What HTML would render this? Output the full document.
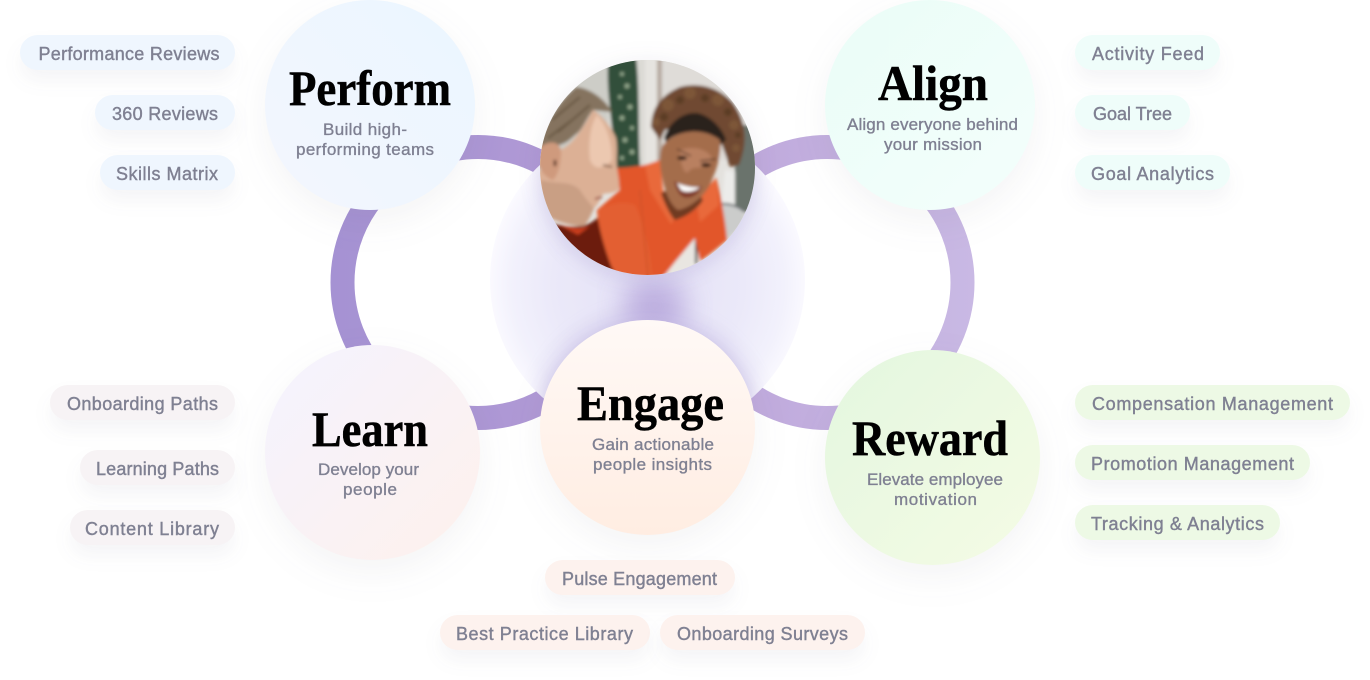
<!DOCTYPE html>
<html lang="en">
<head>
<meta charset="utf-8">
<title>Platform diagram</title>
<style>
html,body{margin:0;padding:0;background:#fff;width:1370px;height:680px;overflow:hidden}
svg{display:block}
.p{font:500 18px "Liberation Sans",sans-serif;fill:#7f8092;stroke:#7f8092;stroke-width:.4px}
.s{font:500 17px "Liberation Sans",sans-serif;fill:#7f8092;stroke:#7f8092;stroke-width:.35px}
.t{font:700 50px "Liberation Serif",serif;fill:#000;stroke:#000;stroke-width:.5px}
.pill{filter:drop-shadow(0 11px 9px rgba(60,60,90,.05))}
.c{filter:drop-shadow(0 12px 18px rgba(60,60,90,.06))}
</style>
</head>
<body>
<svg width="1370" height="680" viewBox="0 0 1370 680" xmlns="http://www.w3.org/2000/svg">
<defs>
<linearGradient id="rl" gradientUnits="userSpaceOnUse" x1="330" y1="280" x2="620" y2="280"><stop offset="0" stop-color="#a592d3"/><stop offset="1" stop-color="#b49cd6"/></linearGradient>
<linearGradient id="rr" gradientUnits="userSpaceOnUse" x1="690" y1="280" x2="975" y2="280"><stop offset="0" stop-color="#bda6da"/><stop offset="1" stop-color="#c9b9e4"/></linearGradient>
<radialGradient id="mid" gradientUnits="userSpaceOnUse" cx="648" cy="285" r="160"><stop offset="0" stop-color="#e4e1f6"/><stop offset=".6" stop-color="#ebe9f9"/><stop offset=".85" stop-color="#f2f1fc"/><stop offset="1" stop-color="#fbfaff"/></radialGradient>
<linearGradient id="g1" x1="1" y1="0" x2="0" y2="1"><stop offset="0" stop-color="#ebf6ff"/><stop offset="1" stop-color="#f3f6fe"/></linearGradient>
<linearGradient id="g2" x1="0" y1="0" x2="1" y2="1"><stop offset="0" stop-color="#eafdf7"/><stop offset="1" stop-color="#f4fefc"/></linearGradient>
<linearGradient id="g3" x1="0" y1="0" x2="1" y2="1"><stop offset=".1" stop-color="#f5f3fd"/><stop offset=".9" stop-color="#fdf1ee"/></linearGradient>
<linearGradient id="g4" x1="0" y1="0" x2="0" y2="1"><stop offset="0" stop-color="#fff9f6"/><stop offset="1" stop-color="#ffede2"/></linearGradient>
<linearGradient id="g5" x1="0" y1="0" x2="1" y2="1"><stop offset=".1" stop-color="#e5f7e0"/><stop offset=".9" stop-color="#f3fbe4"/></linearGradient>
<clipPath id="ph"><circle cx="647.5" cy="167.5" r="107.5"/></clipPath>
<clipPath id="dc"><circle cx="647.5" cy="280" r="157.5"/></clipPath>
<filter id="b1" x="-10%" y="-10%" width="120%" height="120%"><feGaussianBlur stdDeviation="1.5"/></filter>
<filter id="b9" x="-30%" y="-30%" width="160%" height="160%"><feGaussianBlur stdDeviation="10"/></filter>
<filter id="b14" x="-40%" y="-40%" width="180%" height="180%"><feGaussianBlur stdDeviation="14"/></filter>
</defs>

<!-- ring arcs -->
<circle cx="478" cy="282.5" r="135.5" fill="none" stroke="url(#rl)" stroke-width="24"/>
<circle cx="827" cy="282.5" r="135.5" fill="none" stroke="url(#rr)" stroke-width="24"/>

<!-- central disc -->
<circle cx="647.5" cy="280" r="157.5" fill="url(#mid)"/>
<g clip-path="url(#dc)">
<circle cx="647.5" cy="425" r="110" fill="#bdb0e2" opacity=".55" filter="url(#b9)"/>
<ellipse cx="655" cy="305" rx="32" ry="26" fill="#b3a2da" opacity=".8" filter="url(#b14)"/>
<circle cx="647.5" cy="172" r="108" fill="#c9c1ea" opacity=".4" filter="url(#b9)"/>
</g>

<!-- photo -->
<g style="filter:drop-shadow(0 2px 12px rgba(60,50,100,.08))">
<circle cx="647.5" cy="167.5" r="107.5" fill="#e4e1dd"/>
</g>
<g clip-path="url(#ph)">
<rect x="540" y="60" width="215" height="215" fill="#e4e2de"/>
<g filter="url(#b1)">
<!-- background -->
<rect x="530" y="50" width="80" height="120" fill="#cdcdc7"/>
<rect x="608" y="50" width="40" height="120" fill="#dcdad5"/>
<rect x="645" y="50" width="12" height="120" fill="#e6e4e0"/>
<rect x="657" y="50" width="5.5" height="115" fill="#b7aba2"/>
<rect x="662" y="50" width="100" height="110" fill="#dfdcd8"/>
<path d="M608 60C614 56 628 54 636 56C640 90 638 130 640 166L616 170C614 130 606 100 608 60Z" fill="#33503a"/>
<g fill="#93a78c">
<circle cx="622" cy="74" r="2"/><circle cx="627" cy="86" r="2.5"/><circle cx="620" cy="97" r="2"/><circle cx="630" cy="107" r="2.5"/><circle cx="622" cy="118" r="2.5"/><circle cx="632" cy="128" r="2"/><circle cx="625" cy="140" r="2.5"/><circle cx="632" cy="152" r="2.5"/><circle cx="622" cy="158" r="2"/>
</g>
<!-- right of woman -->
<path d="M725 170L735 172L735 205L722 205Z" fill="#ececea"/>
<path d="M735 125L762 125L762 215L735 210Z" fill="#6a736c"/>
<path d="M720 203Q735 203 745 212L742 226L726 240Z" fill="#cbcccb"/>
<path d="M720 204Q735 203 745 212" stroke="#6b6f72" stroke-width="2" fill="none"/>
<path d="M650 285L695 238L705 285Z" fill="#e9e6e1"/>
<rect x="695" y="238" width="2.5" height="26" fill="#4a4a48"/>
<!-- man's dark shirt -->
<path d="M548 222C570 230 590 228 600 215L618 285L565 285Z" fill="#6c1a10"/>
<path d="M555 222C565 228 580 230 590 226L578 235Z" fill="#c93c1e"/>
<!-- orange shirt -->
<path d="M615 168C630 168 650 165 660 160L662 190C668 210 672 216 675 218C690 216 702 205 711 190L716 177C722 200 726 225 727 240C715 250 705 258 700 261L695 238L675 262L657 285L625 285L612 268C605 250 598 225 597 210L620 190Z" fill="#e2572b"/>
<path d="M597 210C610 205 620 200 635 205C645 225 650 250 653 285L625 285L612 268C605 250 598 225 597 210Z" fill="#e35f31"/>
<path d="M640 190L648 276" stroke="#cc4f26" stroke-width="1.2" fill="none"/>
<path d="M645 165L660 160L663 190L675 218L671 224L650 190Z" fill="#e9693a"/>
<path d="M696 200L716 178L719 205L700 222Z" fill="#e9693a"/>
<!-- neck -->
<path d="M661 193C665 205 672 218 675 220C688 216 698 208 703 200L690 180Z" fill="#6f3a24"/>
<!-- hair -->
<path d="M651 127C652 108 660 96 680 87C700 82 720 88 733 103C745 120 749 140 739 165L730 167L722 145L710 128L680 125L665 130L660 140Z" fill="#6f4a30"/>
<g fill="#7d5639"><circle cx="668" cy="105" r="6"/><circle cx="690" cy="93" r="6"/><circle cx="718" cy="100" r="6"/><circle cx="734" cy="125" r="5"/><circle cx="736" cy="148" r="4"/><circle cx="656" cy="122" r="4"/></g>
<g fill="#5c3c27"><circle cx="680" cy="100" r="4"/><circle cx="705" cy="98" r="4"/><circle cx="728" cy="112" r="4"/><circle cx="738" cy="135" r="3"/><circle cx="664" cy="117" r="4"/></g>
<path d="M664 138C670 120 685 112 697 113C712 116 723 130 726 140L720 145C705 130 680 128 666 142Z" fill="#2a211e"/>
<!-- face -->
<path d="M663 145C678 128 705 128 720 140C722 150 717 170 713 177C708 195 690 208 678 210C670 205 664 190 661 172C659 160 660 150 663 145Z" fill="#a46d4c"/>
<path d="M680 150C695 145 708 150 712 158C708 172 695 165 690 170C685 178 680 165 680 150Z" fill="#b98061"/>
<path d="M677 149L691 156M700 161L716 159" stroke="#45291c" stroke-width="1.2" fill="none"/>
<ellipse cx="682" cy="158" rx="5" ry="2" fill="#2a1710"/>
<ellipse cx="706" cy="165" rx="5" ry="2" fill="#2a1710"/>
<path d="M674 181C682 186 692 187 702 186C698 197 688 199 683 197C678 194 676 188 674 181Z" fill="#7f3b2a"/>
<path d="M677 183C684 186 692 188 700 187C695 192 685 193 681 190Z" fill="#fff"/>
<!-- man's hair -->
<path d="M535 150C545 122 560 100 576 87C590 88 606 100 612 112L593 110C585 120 583 130 575 135C565 145 560 145 545 148Z" fill="#85735f"/>
<path d="M552 120L580 97M558 132L590 105M548 138L572 120" stroke="#66553f" stroke-width="2" fill="none"/>
<!-- man's face -->
<path d="M593 110C602 115 612 128 616 138C618 150 616 158 617 168C618 175 620 183 619 190C612 194 606 193 603 194C600 200 598 205 594 208C590 218 586 225 583 226C570 226 560 222 550 218C538 205 535 190 536 175L560 150C572 145 582 130 593 110Z" fill="#dcb095"/>
<path d="M597 115C606 125 612 140 612 160C603 170 594 170 590 160C588 145 590 125 597 115Z" fill="#ecc8b0"/>
<path d="M550 218C540 205 540 192 541 180C558 185 570 180 580 190C586 200 594 208 594 208C590 218 586 225 583 226C570 226 560 222 550 218Z" fill="#c99f84"/>
<path d="M603 165L612 167" stroke="#6b4a38" stroke-width="1.5" fill="none"/>
<path d="M595 199L602 197" stroke="#9f5a4e" stroke-width="2" fill="none"/>
<!-- ear -->
<path d="M536 150C548 140 558 140 561 150C561 160 560 172 553 180C546 178 535 168 536 150Z" fill="#cf9a7d"/>
<path d="M555 160L555 166" stroke="#4a2a1c" stroke-width="2.5" fill="none"/>
</g>
</g>

<!-- main circles -->
<circle class="c" cx="370" cy="105" r="105" fill="url(#g1)"/>
<circle class="c" cx="930" cy="105" r="105" fill="url(#g2)"/>
<circle class="c" cx="372.5" cy="452.5" r="107.5" fill="url(#g3)"/>
<circle class="c" cx="647.5" cy="427.5" r="107.5" fill="url(#g4)"/>
<circle class="c" cx="932.5" cy="457.5" r="107.5" fill="url(#g5)"/>

<text class="t" x="289" y="105" textLength="162" lengthAdjust="spacingAndGlyphs">Perform</text>
<text class="t" x="878" y="100" textLength="110" lengthAdjust="spacingAndGlyphs">Align</text>
<text class="t" x="312" y="446" textLength="116" lengthAdjust="spacingAndGlyphs">Learn</text>
<text class="t" x="577" y="420" textLength="147" lengthAdjust="spacingAndGlyphs">Engage</text>
<text class="t" x="852" y="455" textLength="156" lengthAdjust="spacingAndGlyphs">Reward</text>

<text class="s" x="323" y="135" textLength="84">Build high-</text>
<text class="s" x="296" y="155" textLength="138">performing teams</text>
<text class="s" x="847" y="130" textLength="171">Align everyone behind</text>
<text class="s" x="884" y="150" textLength="98">your mission</text>
<text class="s" x="318" y="475" textLength="101">Develop your</text>
<text class="s" x="343" y="495" textLength="54">people</text>
<text class="s" x="592" y="450" textLength="122">Gain actionable</text>
<text class="s" x="593" y="470" textLength="119">people insights</text>
<text class="s" x="867" y="485" textLength="136">Elevate employee</text>
<text class="s" x="894" y="505" textLength="83">motivation</text>

<!-- pills: Perform -->
<g fill="#eff6fe">
<rect class="pill" x="20" y="35" width="215" height="35" rx="17.5"/>
<rect class="pill" x="95" y="95" width="140" height="35" rx="17.5"/>
<rect class="pill" x="100" y="155" width="135" height="35" rx="17.5"/>
</g>
<!-- pills: Align -->
<g fill="#effdfa">
<rect class="pill" x="1075" y="35" width="145" height="35" rx="17.5"/>
<rect class="pill" x="1075" y="95" width="115" height="35" rx="17.5"/>
<rect class="pill" x="1075" y="155" width="155" height="35" rx="17.5"/>
</g>
<!-- pills: Reward -->
<g fill="#edf9e5">
<rect class="pill" x="1075" y="385" width="275" height="35" rx="17.5"/>
<rect class="pill" x="1075" y="445" width="235" height="35" rx="17.5"/>
<rect class="pill" x="1075" y="505" width="205" height="35" rx="17.5"/>
</g>
<!-- pills: Learn -->
<g fill="#f7f3f5">
<rect class="pill" x="50" y="385" width="185" height="35" rx="17.5"/>
<rect class="pill" x="80" y="450" width="155" height="35" rx="17.5"/>
<rect class="pill" x="70" y="510" width="165" height="35" rx="17.5"/>
</g>
<!-- pills: Engage -->
<g fill="#fdf2ee">
<rect class="pill" x="545" y="560" width="190" height="35" rx="17.5"/>
<rect class="pill" x="440" y="615" width="210" height="35" rx="17.5"/>
<rect class="pill" x="660" y="615" width="205" height="35" rx="17.5"/>
</g>

<text class="p" x="38.5" y="60" textLength="181">Performance Reviews</text>
<text class="p" x="112" y="120" textLength="106">360 Reviews</text>
<text class="p" x="116" y="180" textLength="102">Skills Matrix</text>
<text class="p" x="1092" y="60" textLength="112">Activity Feed</text>
<text class="p" x="1093" y="120" textLength="79">Goal Tree</text>
<text class="p" x="1091" y="180" textLength="123">Goal Analytics</text>
<text class="p" x="1092" y="410" textLength="241">Compensation Management</text>
<text class="p" x="1091" y="470" textLength="203">Promotion Management</text>
<text class="p" x="1091" y="530" textLength="173">Tracking &amp; Analytics</text>
<text class="p" x="67" y="410" textLength="151">Onboarding Paths</text>
<text class="p" x="96" y="475" textLength="123">Learning Paths</text>
<text class="p" x="85" y="535" textLength="134">Content Library</text>
<text class="p" x="562" y="585" textLength="155">Pulse Engagement</text>
<text class="p" x="456" y="640" textLength="177">Best Practice Library</text>
<text class="p" x="677" y="640" textLength="171">Onboarding Surveys</text>
</svg>
</body>
</html>
